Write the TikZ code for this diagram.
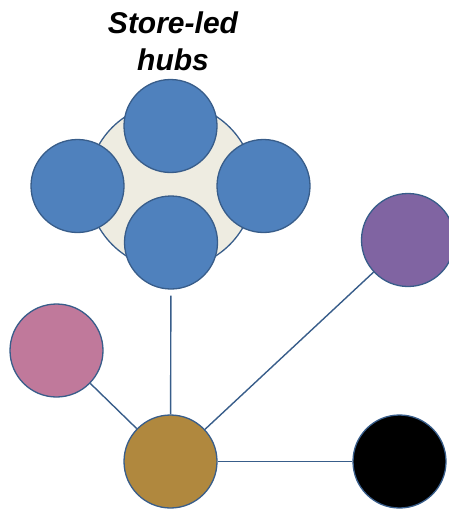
\documentclass[tikz,border=0pt]{standalone}
\usepackage{fontspec}
\setmainfont{Liberation Sans}
\definecolor{hubblue}{HTML}{4F81BD}
\definecolor{hubline}{HTML}{385D8A}
\definecolor{hubback}{HTML}{EEECE1}
\definecolor{purple}{HTML}{8064A2}
\definecolor{pink}{HTML}{C0799B}
\definecolor{gold}{HTML}{B0883E}
\begin{document}
\begin{tikzpicture}[x=1pt,y=-1pt,
    member/.style={circle,draw=hubline,line width=1.3pt,inner sep=0pt,minimum size=93pt},
    link/.style={draw=hubline,line width=1.4pt}]
    \useasboundingbox (0,0) rectangle (449,511);
    % the hub group
    \node[member,fill=hubback,minimum size=166pt] (back) at (171,186) {};
    \node[member,fill=hubblue] (top) at (170.5,126) {};
    \node[member,fill=hubblue] (left) at (77.5,186) {};
    \node[member,fill=hubblue] (right) at (263.5,186) {};
    \node[member,fill=hubblue] (bottom) at (171,242.5) {};
    \node[align=center,font=\fontsize{30}{37.5}\selectfont\bfseries\itshape] (title) at (173,41.5) {Store-led\\hubs};
    % outside members
    \node[member,fill=purple] (purple) at (408,240) {};
    \node[member,fill=pink] (pink) at (56.5,350.5) {};
    \node[member,fill=gold] (gold) at (170.5,461.5) {};
    \node[member,fill=black] (black) at (399.5,461.5) {};
    \draw[link,shorten >=6pt] (gold) -- (bottom);
    \draw[link] (gold) -- (pink);
    \draw[link] (gold) -- (purple);
    \draw[link] (gold) -- (black);
\end{tikzpicture}
\end{document}
